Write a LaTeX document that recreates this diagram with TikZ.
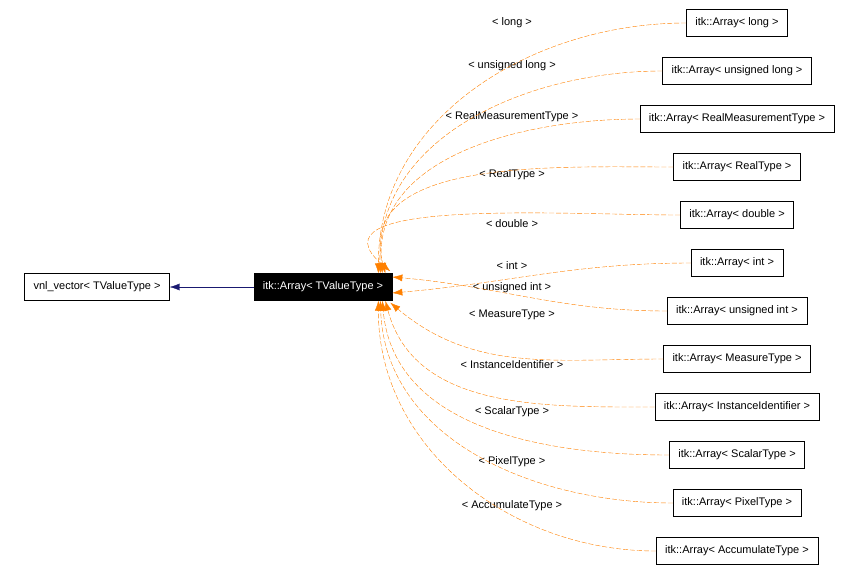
\documentclass[tikz,border=0pt]{standalone}
\usepackage{fontspec}
\setmainfont{Liberation Sans}
\usetikzlibrary{arrows.meta}
\definecolor{navyc}{RGB}{25,25,112}
\begin{document}
\begin{tikzpicture}[x=1pt,y=-1pt,
  box/.style={draw=black,fill=white,minimum height=27pt,inner xsep=9pt,font=\fontsize{11}{13}\selectfont},
  lab/.style={font=\fontsize{11}{13}\selectfont},
  inh/.style={draw=orange,dash pattern=on 5pt off 2pt,-{Latex[length=10pt,width=7pt,fill=orange,sep=0pt]}}]
\useasboundingbox (0,0) rectangle (863,582);
\node[box] (vnl) at (97,287) {vnl\_vector< TValueType >};
\node[box,fill=black,text=white] (arr) at (323,287) {itk::Array< TValueType >};
\draw[draw=navyc,-{Latex[length=10pt,width=7pt,fill=navyc]}] (arr) -- (vnl);
\foreach \n/\y/\t/\ly in {
  a/23/long/23,
  b/71/unsigned long/66,
  c/119/RealMeasurementType/117,
  d/167/RealType/175,
  e/215/double/224,
  f/263/int/266,
  g/311/unsigned int/288,
  h/359/MeasureType/315,
  i/407/InstanceIdentifier/365,
  j/455/ScalarType/412,
  k/503/PixelType/462,
  l/551/AccumulateType/506}{
  \node[box] (\n) at (737,\y) {itk::Array< \t{} >};
  \node[lab] (l\n) at (512,\ly) {< \t{} >};
}
\draw[inh] (a.west) to[out=180,in=90] ([xshift=-14pt]arr.north east);
\draw[inh] (b.west) to[out=180,in=92] ([xshift=-12pt]arr.north east);
\draw[inh] (c.west) to[out=180,in=95] ([xshift=-10pt]arr.north east);
\draw[inh] (d.west) to[out=180,in=105] ([xshift=-7pt]arr.north east);
\draw[inh] (e.west) to[out=180,in=140] ([xshift=-2pt,yshift=2pt]arr.north east);
\draw[inh] (f.west) to[out=180,in=5] ([yshift=-6pt]arr.east);
\draw[inh] (g.west) to[out=180,in=-5] ([yshift=10pt]arr.east);
\draw[inh] (h.west) to[out=180,in=-40] ([xshift=-2pt,yshift=-2pt]arr.south east);
\draw[inh] (i.west) to[out=180,in=-75] ([xshift=-7pt]arr.south east);
\draw[inh] (j.west) to[out=180,in=-85] ([xshift=-10pt]arr.south east);
\draw[inh] (k.west) to[out=180,in=-88] ([xshift=-12pt]arr.south east);
\draw[inh] (l.west) to[out=180,in=-90] ([xshift=-14pt]arr.south east);
\end{tikzpicture}
\end{document}
